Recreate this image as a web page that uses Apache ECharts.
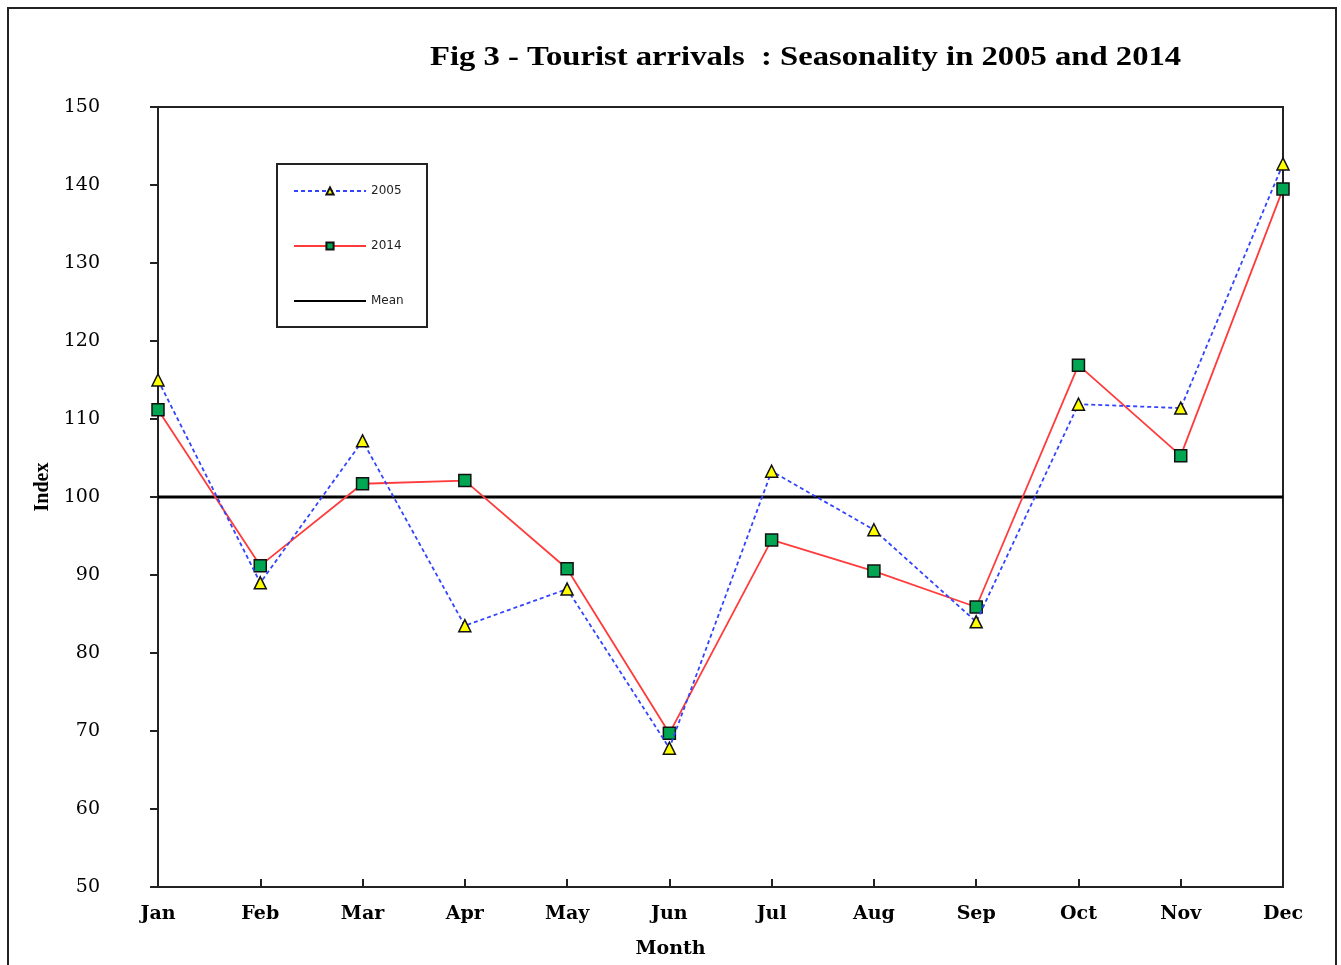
<!DOCTYPE html>
<html><head><meta charset="utf-8">
<script src="https://cdn.jsdelivr.net/npm/echarts@6/dist/echarts.min.js"></script>
<style>html,body{margin:0;padding:0;background:#fff}#c{width:1341px;height:965px}</style>
</head><body><div id="c"></div>
<script>
const months = ['Jan','Feb','Mar','Apr','May','Jun','Jul','Aug','Sep','Oct','Nov','Dec'];
const s2005 = [115.0, 89.0, 107.2, 83.5, 88.2, 67.8, 103.3, 95.8, 84.0, 111.9, 111.4, 142.7];
const s2014 = [111.2, 91.2, 101.7, 102.1, 90.8, 69.7, 94.5, 90.5, 85.9, 116.9, 105.3, 139.5];
const meanVals = months.map(() => 100);
const yTicks = [50, 60, 70, 80, 90, 100, 110, 120, 130, 140, 150];

const chart = echarts.init(document.getElementById('c'));
const serif = '"Liberation Serif", "Times New Roman", serif';
const wideSerif = '"DejaVu Serif", serif';
chart.setOption({
  animation: false,
  backgroundColor: '#fff',
  graphic: [
    {type:'rect', shape:{x:8, y:8, width:1328, height:980}, style:{fill:'none', stroke:'#222', lineWidth:2}, z:-1},
    {type:'rect', shape:{x:277, y:164, width:150, height:163}, style:{fill:'#fff', stroke:'#222', lineWidth:2}, z:1},
    {type:'text', x:430, y:45, scaleX:1.21, z:10,
      style:{text:'Fig 3 - Tourist arrivals  : Seasonality in 2005 and 2014', fontFamily: serif, fontSize: 27, fontWeight: 'bold', fill:'#000', textAlign:'left', textVerticalAlign:'top'}}
  ],
  legend: {
    orient: 'vertical', left: 288, top: 180, itemWidth: 72, itemHeight: 9, itemGap: 43,
    textStyle: {fontFamily: '"DejaVu Sans", sans-serif', fontSize: 12, color: '#222'},
    data: ['2005','2014',{name:'Mean', itemStyle:{opacity:0}}], z: 5
  },
  grid: {left: 158, right: 58, top: 107, bottom: 78, show: true, borderColor: '#222', borderWidth: 2, backgroundColor: 'transparent'},
  xAxis: {
    type: 'category', data: months, boundaryGap: false,
    name: 'Month', nameLocation: 'middle', nameGap: 53,
    nameTextStyle: {fontFamily: wideSerif, fontSize: 19, fontWeight: 'bold', color: '#000', padding: [0, 100, 0, 0]},
    axisLine: {lineStyle: {color: '#222', width: 2}},
    axisTick: {inside: true, length: 8, lineStyle: {color: '#222', width: 2}},
    axisLabel: {fontFamily: wideSerif, fontSize: 19, fontWeight: 'bold', color: '#000', margin: 18},
    splitLine: {show: false}
  },
  yAxis: {
    type: 'value', min: 50, max: 150, interval: 10,
    name: 'Index', nameLocation: 'middle', nameGap: 105, nameRotate: 90,
    nameTextStyle: {fontFamily: serif, fontSize: 20, fontWeight: 'bold', color: '#000', padding: [0, 0, 0, 20]},
    axisLine: {show: true, lineStyle: {color: '#222', width: 2}},
    axisTick: {show: true, length: 8, lineStyle: {color: '#222', width: 2}},
    axisLabel: {fontFamily: wideSerif, fontSize: 19, fontWeight: 'normal', color: '#000', margin: 58,
      formatter: v => yTicks.includes(v) ? String(v) : ''},
    splitLine: {show: false}
  },
  series: [
    {name: 'Mean', type: 'line', data: meanVals, showSymbol: false, symbol: 'none',
      lineStyle: {color: '#000', width: 3}, itemStyle: {color: '#000'}, z: 2},
    {name: '2014', type: 'line', data: s2014, symbol: 'rect', symbolSize: 12,
      lineStyle: {color: '#ff3b3b', width: 1.8}, itemStyle: {color: '#00a651', borderColor: '#111', borderWidth: 1.5}, z: 3},
    {name: '2005', type: 'line', data: s2005, symbol: 'triangle', symbolSize: 12,
      lineStyle: {color: '#3344ff', width: 1.8, type: [4, 3]}, itemStyle: {color: '#ffff00', borderColor: '#111', borderWidth: 1.5}, z: 4}
  ]
});
</script></body></html>
